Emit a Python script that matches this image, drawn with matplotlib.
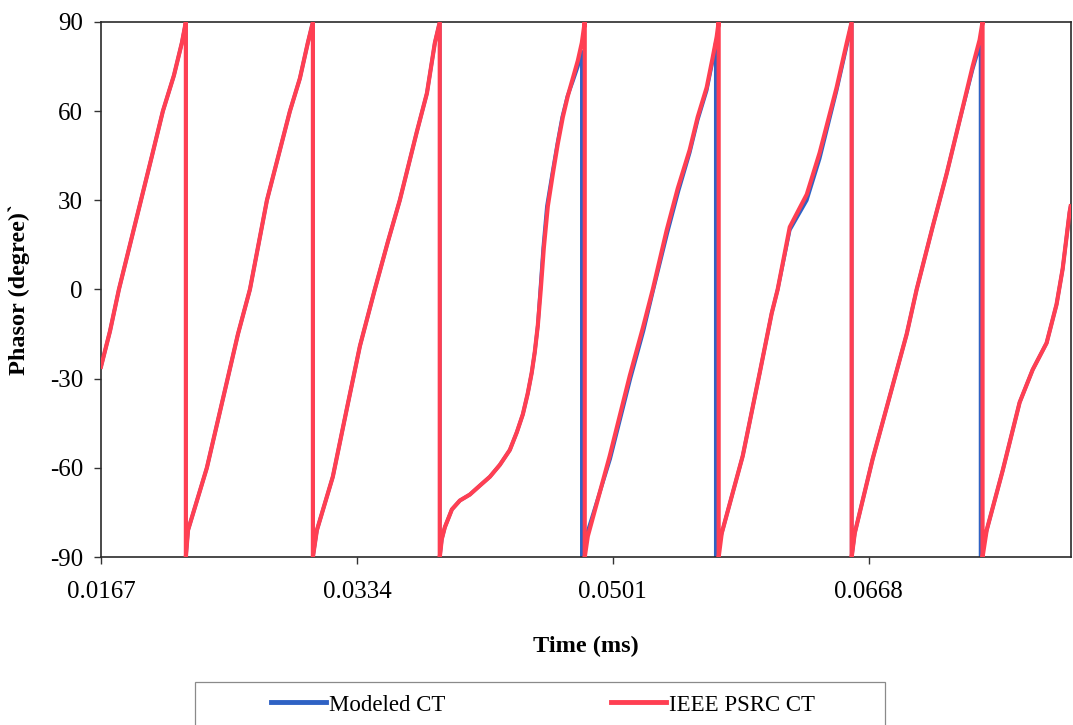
import matplotlib
matplotlib.use("Agg")
import matplotlib.pyplot as plt
from matplotlib.patches import Rectangle

plt.rcParams['font.family'] = ['Liberation Serif', 'DejaVu Serif']
plt.rcParams['axes.unicode_minus'] = False

# IEEE PSRC CT phase angle (degrees) vs time
t_psrc = [0.01670, 0.01729, 0.01787, 0.01859, 0.01931, 0.02003, 0.02074, 0.02146, 0.02198, 0.02224, 0.02224,
          0.02238, 0.02361, 0.02492, 0.02564, 0.02642, 0.02753, 0.02903, 0.02968, 0.03020, 0.03053, 0.03053,
          0.03079, 0.03183, 0.03275, 0.03360, 0.03457, 0.03542, 0.03620, 0.03731, 0.03797, 0.03849, 0.03881, 0.03881,
          0.03894, 0.03914, 0.03960, 0.04012, 0.04077, 0.04142, 0.04208, 0.04273, 0.04338, 0.04384, 0.04423,
          0.04455, 0.04481, 0.04501, 0.04521, 0.04540, 0.04560, 0.04586, 0.04619, 0.04651, 0.04684, 0.04716,
          0.04749, 0.04782, 0.04808, 0.04827, 0.04827,
          0.04847, 0.04990, 0.05121, 0.05206, 0.05271, 0.05362, 0.05434, 0.05512, 0.05564, 0.05623, 0.05662,
          0.05688, 0.05701, 0.05701,
          0.05721, 0.05858, 0.05969, 0.06047, 0.06086, 0.06165, 0.06276, 0.06360, 0.06471, 0.06537, 0.06569, 0.06569,
          0.06589, 0.06706, 0.06817, 0.06928, 0.06993, 0.07097, 0.07189, 0.07274, 0.07358, 0.07404, 0.07423, 0.07423,
          0.07450, 0.07554, 0.07665, 0.07750, 0.07841, 0.07906, 0.07946, 0.07991, 0.07998]
ph_psrc = [-26, -14, 0, 15, 30, 45, 60, 72, 83, 90, -90,
           -81, -60, -31, -15, 0, 30, 60, 71, 83, 90, -90,
           -81, -63, -40, -19, 0, 16, 30, 53, 66, 83, 90, -90,
           -84, -80, -74, -71, -69, -66, -63, -59, -54, -48, -42,
           -35, -28, -21, -12, 0, 14, 28, 39, 49, 58, 65,
           71, 77, 83, 90, -90,
           -83, -56, -29, -13, 0, 20, 34, 47, 58, 68, 78,
           85, 90, -90,
           -82, -56, -28, -8, 0, 21, 32, 46, 68, 83, 90, -90,
           -82, -57, -36, -15, 0, 21, 39, 57, 75, 84, 90, -90,
           -81, -61, -38, -27, -18, -5, 7, 26, 28]

# Modeled CT phase angle (degrees) vs time
t_model = [0.01670, 0.01729, 0.01787, 0.01859, 0.01931, 0.02003, 0.02074, 0.02146, 0.02198, 0.02224, 0.02224,
           0.02238, 0.02361, 0.02492, 0.02564, 0.02642, 0.02753, 0.02903, 0.02968, 0.03020, 0.03053, 0.03053,
           0.03079, 0.03183, 0.03275, 0.03360, 0.03457, 0.03542, 0.03620, 0.03731, 0.03797, 0.03849, 0.03881, 0.03881,
           0.03894, 0.03914, 0.03960, 0.04012, 0.04077, 0.04142, 0.04208, 0.04273, 0.04338, 0.04384, 0.04423,
           0.04455, 0.04481, 0.04501, 0.04521, 0.04537, 0.04556, 0.04580, 0.04615, 0.04648, 0.04680, 0.04714,
           0.04749, 0.04782, 0.04808, 0.04808,
           0.04830, 0.04993, 0.05125, 0.05210, 0.05275, 0.05366, 0.05438, 0.05512, 0.05564, 0.05623, 0.05662,
           0.05682, 0.05682,
           0.05721, 0.05858, 0.05969, 0.06047, 0.06086, 0.06165, 0.06276, 0.06360, 0.06471, 0.06537, 0.06569, 0.06569,
           0.06589, 0.06706, 0.06817, 0.06928, 0.06993, 0.07097, 0.07189, 0.07274, 0.07358, 0.07404, 0.07410, 0.07410,
           0.07450, 0.07554, 0.07665, 0.07750, 0.07841, 0.07906, 0.07946, 0.07991, 0.07998]
ph_model = [-26, -14, 0, 15, 30, 45, 60, 72, 83, 90, -90,
            -81, -60, -31, -15, 0, 30, 60, 71, 83, 90, -90,
            -81, -63, -40, -19, 0, 16, 30, 53, 66, 83, 90, -90,
            -84, -80, -74, -71, -69, -66, -63, -59, -54, -48, -42,
            -35, -28, -21, -12, 0, 14, 28, 39, 49, 58, 65,
            70, 75, 80, -90,
            -84, -57, -30, -14, 0, 19, 33, 46, 57, 67, 77,
            83, -90,
            -82, -56, -28, -8, 0, 20, 30, 44, 67, 82, 90, -90,
            -82, -57, -36, -15, 0, 21, 39, 57, 74, 82, 84, -90,
            -81, -61, -38, -27, -18, -5, 7, 26, 28]

x_ticks = [0.0167, 0.0334, 0.0501, 0.0668]
y_ticks = [-90, -60, -30, 0, 30, 60, 90]

fig, ax = plt.subplots(figsize=(10.73, 7.25), dpi=100)
fig.subplots_adjust(left=0.0941, right=0.9981, top=0.9697, bottom=0.2317)

ax.plot(t_model, ph_model, color='#2f62c4', lw=2.6, label='Modeled CT', zorder=2)
ax.plot(t_psrc, ph_psrc, color='#ff3f52', lw=3.0, label='IEEE PSRC CT', zorder=3)

ax.set_xlim(0.0167, 0.08)
ax.set_ylim(-90, 90)
ax.set_xticks(x_ticks)
ax.set_xticklabels(['0.0167', '0.0334', '0.0501', '0.0668'])
ax.set_yticks(y_ticks)
ax.tick_params(axis='both', direction='out', length=5, width=1, color='#333333',
               labelsize=18)
ax.tick_params(axis='y', pad=8)
ax.tick_params(axis='x', pad=12)
for s in ax.spines.values():
    s.set_color('#2a2a2a')
    s.set_linewidth(1.2)

ax.set_xlabel('Time (ms)', fontsize=17.5, fontweight='bold')
ax.set_ylabel('Phasor (degree)`', fontsize=17.5, fontweight='bold')
ax.xaxis.set_label_coords(0.5, -0.148)
ax.yaxis.set_label_coords(-0.073, 0.5)

leg = ax.legend(loc='center', bbox_to_anchor=(0.506, 0.0276), bbox_transform=fig.transFigure,
                ncol=2, frameon=False, fontsize=16.5, handlelength=2.4, handletextpad=0.15,
                columnspacing=7.2)
for line in leg.get_lines():
    line.set_linewidth(3.5)

fig.add_artist(Rectangle((195 / 1073, -0.02), 690 / 1073, 0.0593 + 0.02,
                         transform=fig.transFigure, fill=False, edgecolor='#8a8a8a', lw=0.9))

fig.savefig('out.png', dpi=100)
